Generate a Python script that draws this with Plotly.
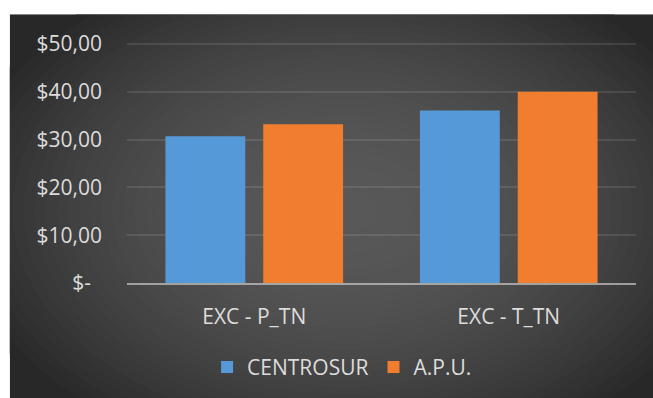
import plotly.graph_objects as go

# ---- data ----
categories = ["EXC - P_TN", "EXC - T_TN"]
centrosur = [30.7, 36.1]
apu = [33.2, 40.0]
series_names = ["CENTROSUR", "A.P.U."]
tick_vals = [0, 10, 20, 30, 40, 50]
tick_text = ["$-\u00a0\u00a0", "$10,00", "$20,00", "$30,00", "$40,00", "$50,00"]

W, H = 653, 398
FONT = "Open Sans"
FS = 21
TXT = "#dcdcdc"

Y_TOP = 50.4
# plot area in pixels
L, R, B = 126.5, 636.5, 282.7
UNIT = (282.7 - 43.7) / 50.0
T = B - Y_TOP * UNIT
PW, PH = R - L, B - T

fig = go.Figure()
fig.add_trace(go.Bar(x=categories, y=centrosur, name=series_names[0],
                     marker=dict(color="#5599d8", line=dict(width=0)),
                     width=0.3137, offset=-0.349))
fig.add_trace(go.Bar(x=categories, y=apu, name=series_names[1],
                     marker=dict(color="#f07e2e", line=dict(width=0)),
                     width=0.3137, offset=0.0353))

# ---- background: dark panel with radial gradient (paper coords relative to plot area) ----
px = lambda v: (v - L) / PW
py = lambda v: (B - v) / PH
shapes = []
shapes.append(dict(type="rect", xref="paper", yref="paper", x0=px(9), x1=px(W + 5),
                   y0=py(H + 5), y1=py(14), fillcolor="#282828", line=dict(width=0), layer="below"))
cx, cy, ax, ay = 345, 210, 400, 265
N = 36
for k in range(N):
    t = 1 - k / N
    g = int(round(40 + 48 * (1 - t ** 2)))
    shapes.append(dict(type="circle", xref="paper", yref="paper",
                       x0=px(cx - ax * t), x1=px(cx + ax * t),
                       y0=py(cy + ay * t), y1=py(cy - ay * t),
                       fillcolor=f"rgb({g},{g},{g})", line=dict(width=0), layer="below"))
shapes.append(dict(type="rect", xref="paper", yref="paper", x0=px(-20), x1=px(W + 20),
                   y0=py(14), y1=py(-20), fillcolor="white", line=dict(width=0), layer="below"))
shapes.append(dict(type="rect", xref="paper", yref="paper", x0=px(-20), x1=px(9),
                   y0=py(H + 20), y1=py(-20), fillcolor="white", line=dict(width=0), layer="below"))

fig.update_layout(
    width=W, height=H,
    margin=dict(l=L, r=W - R, t=T, b=H - B, autoexpand=False),
    paper_bgcolor="white",
    plot_bgcolor="rgba(0,0,0,0)",
    barmode="overlay",
    shapes=shapes,
    font=dict(family=FONT, size=FS, color=TXT),
    showlegend=True,
    legend=dict(orientation="h", x=px(342), xanchor="center", y=py(367), yanchor="middle",
                font=dict(family=FONT, size=FS, color=TXT), bgcolor="rgba(0,0,0,0)",
                traceorder="normal"),
    xaxis=dict(range=[-0.5, 1.5], type="category", automargin=False,
               showgrid=False, zeroline=False, showline=True,
               linecolor="rgba(210,210,210,0.65)", linewidth=2,
               ticks="", ticklabelstandoff=14,
               tickfont=dict(family=FONT, size=FS, color=TXT)),
    yaxis=dict(range=[0, Y_TOP], automargin=False,
               tickvals=tick_vals, ticktext=tick_text,
               showgrid=True, gridcolor="rgba(255,255,255,0.10)", gridwidth=1.5,
               zeroline=False, showline=False, ticks="", ticklabelstandoff=24,
               tickfont=dict(family=FONT, size=FS, color=TXT)),
)

fig.write_html("out.html")
